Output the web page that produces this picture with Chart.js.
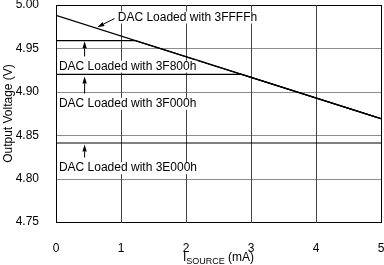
<!DOCTYPE html>
<html>
<head>
<meta charset="utf-8">
<script src="https://cdn.jsdelivr.net/npm/chart.js@4/dist/chart.umd.min.js"></script>
<style>
  html, body { margin: 0; padding: 0; background: #fff; }
  #wrap { width: 384px; height: 265px; }
</style>
</head>
<body>
<div id="wrap"><canvas id="chart" width="384" height="265"></canvas></div>
<script>
// output voltage vs source current, one series per DAC code
const seriesNames = ['3FFFFh', '3F800h', '3F000h', '3E000h'];
const x3FFFF = [0, 5];
const y3FFFF = [4.988, 4.869];
const x3F800 = [0, 1.22, 5];
const y3F800 = [4.959, 4.959, 4.869];
const x3F000 = [0, 2.86, 5];
const y3F000 = [4.920, 4.920, 4.869];
const x3E000 = [0, 5];
const y3E000 = [4.841, 4.841];

const xTicks = [0, 1, 2, 3, 4, 5];
const yTicks = [4.75, 4.80, 4.85, 4.90, 4.95, 5.00];

// callout labels (data coordinates)
const labelTexts = ['DAC Loaded with 3FFFFh', 'DAC Loaded with 3F800h', 'DAC Loaded with 3F000h', 'DAC Loaded with 3E000h'];
const labelX = [0.95, 0.045, 0.045, 0.045];
const labelY = [4.9856, 4.929, 4.8862, 4.812];
const arrowFromX = [0.90, 0.44, 0.44, 0.44];
const arrowFromY = [4.9844, 4.9407, 4.898, 4.8243];
const arrowToX = [0.636, 0.44, 0.44, 0.44];
const arrowToY = [4.9744, 4.9583, 4.9176, 4.8393];

const FONT = '"Liberation Sans", Arial, Helvetica, sans-serif';

function toPoints(xs, ys) {
    return xs.map((v, i) => ({ x: v, y: ys[i] }));
}

const seriesData = [
    toPoints(x3FFFF, y3FFFF),
    toPoints(x3F800, y3F800),
    toPoints(x3F000, y3F000),
    toPoints(x3E000, y3E000)
];

// grid + frame, drawn from the scales' ticks
const gridPlugin = {
    id: 'plotGrid',
    beforeDatasetsDraw(chart) {
        const ctx = chart.ctx;
        const xs = chart.scales.x;
        const ys = chart.scales.y;
        const a = chart.chartArea;
        ctx.save();
        ctx.lineWidth = 1;
        ys.ticks.forEach((t, i) => {
            const py = Math.round(ys.getPixelForValue(t.value)) + 0.5;
            ctx.strokeStyle = (i === 0 || i === ys.ticks.length - 1) ? '#000' : '#8c8c8c';
            ctx.beginPath();
            ctx.moveTo(a.left, py);
            ctx.lineTo(a.right + 1, py);
            ctx.stroke();
        });
        xs.ticks.forEach((t, i) => {
            const px = Math.round(xs.getPixelForValue(t.value)) + 0.5;
            ctx.strokeStyle = (i === 0 || i === xs.ticks.length - 1) ? '#000' : '#444';
            ctx.beginPath();
            ctx.moveTo(px, a.top);
            ctx.lineTo(px, a.bottom + 1);
            ctx.stroke();
        });
        ctx.restore();
    }
};

const calloutPlugin = {
    id: 'callouts',
    afterDraw(chart) {
        const ctx = chart.ctx;
        const xs = chart.scales.x;
        const ys = chart.scales.y;
        ctx.save();
        ctx.font = '12px ' + FONT;
        ctx.textBaseline = 'middle';
        ctx.textAlign = 'left';

        labelTexts.forEach((t, i) => {
            const px = xs.getPixelForValue(labelX[i]);
            const py = ys.getPixelForValue(labelY[i]);
            const w = ctx.measureText(t).width;
            ctx.fillStyle = '#fff';
            ctx.fillRect(px - 1, py - 6, w + 2, 12);
            ctx.fillStyle = '#000';
            ctx.fillText(t, px, py);

            // arrow
            const x1 = xs.getPixelForValue(arrowFromX[i]);
            const y1 = ys.getPixelForValue(arrowFromY[i]);
            const x2 = xs.getPixelForValue(arrowToX[i]);
            const y2 = ys.getPixelForValue(arrowToY[i]);
            const ang = Math.atan2(y2 - y1, x2 - x1);
            const len = 7, half = 2.2;
            const bx = x2 - len * Math.cos(ang);
            const by = y2 - len * Math.sin(ang);
            ctx.strokeStyle = '#000';
            ctx.lineWidth = 1;
            ctx.beginPath();
            ctx.moveTo(x1, y1);
            ctx.lineTo(bx, by);
            ctx.stroke();
            ctx.beginPath();
            ctx.moveTo(x2, y2);
            ctx.lineTo(bx + half * Math.sin(ang), by - half * Math.cos(ang));
            ctx.lineTo(bx - half * Math.sin(ang), by + half * Math.cos(ang));
            ctx.closePath();
            ctx.fill();
        });

        // x axis title with subscript
        const a = chart.chartArea;
        const mid = (a.left + a.right) / 2;
        const base = 261;
        ctx.textBaseline = 'alphabetic';
        ctx.font = '12px ' + FONT;
        const wI = ctx.measureText('I').width;
        const wTail = ctx.measureText(' (mA)').width;
        ctx.font = '9px ' + FONT;
        const wSub = ctx.measureText('SOURCE').width;
        let cx = mid - (wI + wSub + wTail) / 2;
        ctx.fillStyle = '#000';
        ctx.font = '12px ' + FONT;
        ctx.fillText('I', cx, base);
        cx += wI;
        ctx.font = '9px ' + FONT;
        ctx.fillText('SOURCE', cx, base + 3);
        cx += wSub;
        ctx.font = '12px ' + FONT;
        ctx.fillText(' (mA)', cx, base);
        ctx.restore();
    }
};

new Chart(document.getElementById('chart').getContext('2d'), {
    type: 'line',
    data: {
        datasets: seriesData.map((d, i) => ({
            label: seriesNames[i],
            data: d,
            borderColor: '#000',
            borderWidth: 1.2,
            pointRadius: 0,
            fill: false,
            tension: 0
        }))
    },
    options: {
        responsive: false,
        animation: false,
        layout: { padding: { top: 5, right: 3, left: 0, bottom: 0 } },
        plugins: {
            legend: { display: false },
            tooltip: { enabled: false }
        },
        scales: {
            x: {
                type: 'linear',
                min: 0,
                max: 5,
                afterBuildTicks: s => { s.ticks = xTicks.map(v => ({ value: v })); },
                afterFit: s => { s.height = 43; s.paddingLeft = 0; s.paddingRight = 0; },
                border: { display: false },
                grid: { display: false },
                ticks: {
                    padding: 11,
                    color: '#000',
                    font: { family: FONT, size: 12 },
                    callback: v => String(v)
                }
            },
            y: {
                type: 'linear',
                min: 4.75,
                max: 5.00,
                afterBuildTicks: s => { s.ticks = yTicks.map(v => ({ value: v })); },
                afterFit: s => { s.width = 56; s.paddingTop = 0; s.paddingBottom = 0; },
                border: { display: false },
                grid: { display: false },
                ticks: {
                    padding: 9,
                    color: '#000',
                    font: { family: FONT, size: 12 },
                    callback: v => Number(v).toFixed(2)
                },
                title: {
                    display: true,
                    text: 'Output Voltage (V)',
                    color: '#000',
                    font: { family: FONT, size: 12 },
                    padding: { top: 1, bottom: 0 }
                }
            }
        }
    },
    plugins: [gridPlugin, calloutPlugin]
});
</script>
</body>
</html>
